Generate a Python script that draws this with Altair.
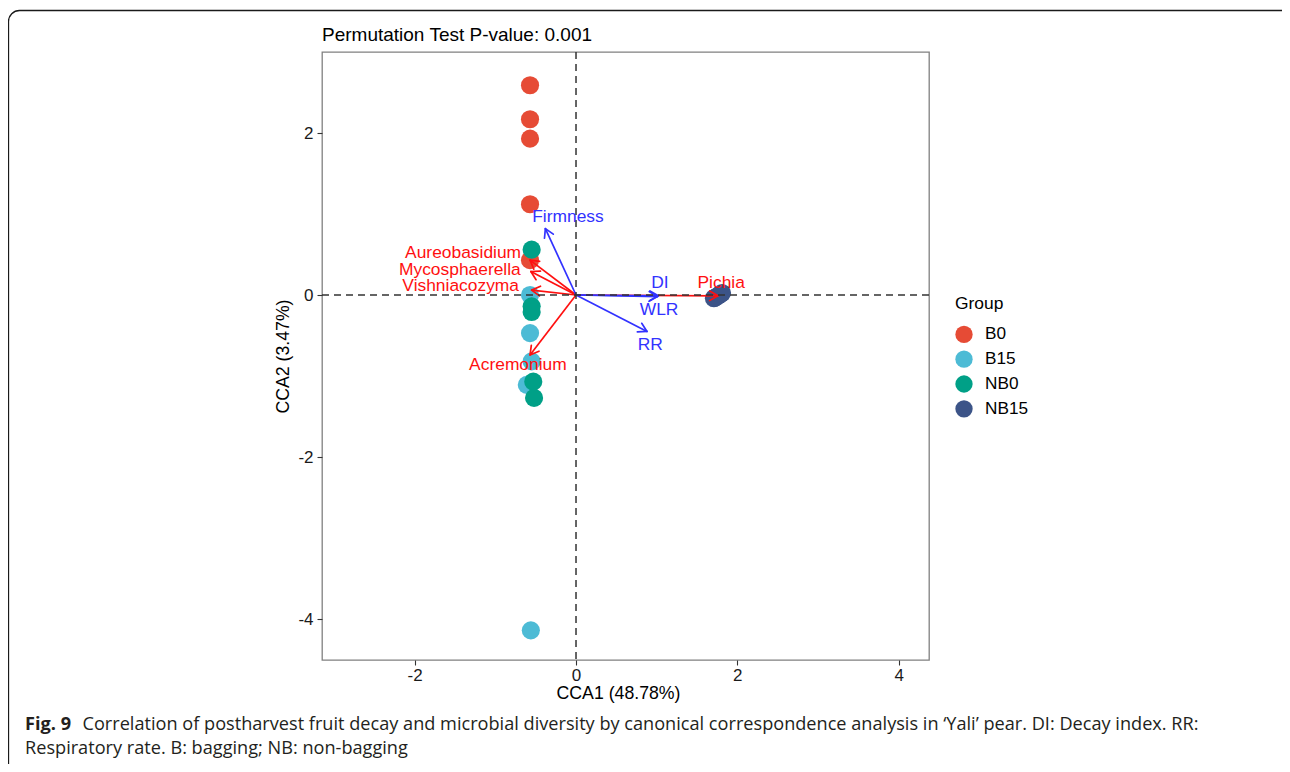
import altair as alt
import pandas as pd

# ---- sample scores (CCA1, CCA2) ----
group_names = ["B0", "B15", "NB0", "NB15"]
group_colors = ["#E64B35", "#4DBBD5", "#00A087", "#3C5488"]
b0_x = [-0.57, -0.57, -0.57, -0.57, -0.57]
b0_y = [2.59, 2.17, 1.93, 1.12, 0.43]
b15_x = [-0.57, -0.57, -0.55, -0.61, -0.56]
b15_y = [0.0, -0.47, -0.82, -1.11, -4.14]
nb0_x = [-0.55, -0.55, -0.55, -0.53, -0.52]
nb0_y = [0.56, -0.14, -0.21, -1.07, -1.27]
nb15_x = [1.71, 1.73, 1.76, 1.79, 1.81]
nb15_y = [-0.04, -0.03, -0.01, 0.01, 0.025]

# ---- species arrows (red) ----
sp_names = ["Aureobasidium", "Mycosphaerella", "Vishniacozyma", "Acremonium", "Pichia"]
sp_x = [-0.57, -0.56, -0.55, -0.57, 1.76]
sp_y = [0.43, 0.29, 0.06, -0.74, -0.01]
sp_lx = [-1.40, -1.44, -1.43, -0.72, 1.80]
sp_ly = [0.52, 0.31, 0.11, -0.87, 0.145]

# ---- environmental arrows (blue) ----
env_names = ["Firmness", "DI", "WLR", "RR"]
env_x = [-0.38, 1.02, 1.01, 0.88]
env_y = [0.82, -0.01, -0.02, -0.45]
env_lx = [-0.10, 1.04, 1.03, 0.92]
env_ly = [0.967, 0.145, -0.185, -0.62]

x_ticks = [-2, 0, 2, 4]
y_ticks = [-4, -2, 0, 2]
x_domain = [-3.149, 4.376]
y_domain = [-4.506, 3.0]

title_text = "Permutation Test P-value: 0.001"
x_title = "CCA1 (48.78%)"
y_title = "CCA2 (3.47%)"
cap_bold = "Fig. 9"
cap_line1 = "Correlation of postharvest fruit decay and microbial diversity by canonical correspondence analysis in \u2018Yali\u2019 pear. DI: Decay index. RR:"
cap_line2 = "Respiratory rate. B: bagging; NB: non-bagging"

FONT = "Liberation Sans"
CAP_FONT = "Open Sans"
CAP_SIZE = 18.15
RED = "#FF1010"
BLUE = "#3232FF"

pts = pd.DataFrame({
    "CCA1": b0_x + b15_x + nb0_x + nb15_x,
    "CCA2": b0_y + b15_y + nb0_y + nb15_y,
    "Group": ["B0"] * len(b0_x) + ["B15"] * len(b15_x) + ["NB0"] * len(nb0_x) + ["NB15"] * len(nb15_x),
})
sp = pd.DataFrame({"name": sp_names, "x": sp_x, "y": sp_y, "lx": sp_lx, "ly": sp_ly})
env = pd.DataFrame({"name": env_names, "x": env_x, "y": env_y, "lx": env_lx, "ly": env_ly})

xs = alt.Scale(domain=x_domain, nice=False, zero=False)
ys = alt.Scale(domain=y_domain, nice=False, zero=False)

points = alt.Chart(pts).mark_circle(size=330, opacity=1).encode(
    x=alt.X("CCA1:Q", scale=xs,
            axis=alt.Axis(values=x_ticks, title=x_title, titleX=296, titleY=33,
                          labelExpr="toString(datum.value)",
                          titleBaseline="middle", titleAlign="center")),
    y=alt.Y("CCA2:Q", scale=ys,
            axis=alt.Axis(values=y_ticks, title=y_title, titleX=-39, titleY=304,
                          labelExpr="toString(datum.value)",
                          titleBaseline="middle", titleAlign="center", titleAngle=270)),
    color=alt.Color("Group:N", scale=alt.Scale(domain=group_names, range=group_colors),
                    legend=alt.Legend(title="Group", orient="none", legendX=633, legendY=243)),
    order=alt.Order("idx:Q"),
).transform_window(idx="row_number()")


def arrows(df, color):
    base = alt.Chart(df).transform_calculate(
        x0="0", y0="0",
        a="atan2(datum.y, datum.x)",
        h1x="datum.x - 0.12*cos(datum.a - PI/6)",
        h1y="datum.y - 0.12*sin(datum.a - PI/6)",
        h2x="datum.x - 0.12*cos(datum.a + PI/6)",
        h2y="datum.y - 0.12*sin(datum.a + PI/6)",
    )
    shaft = base.mark_rule(color=color, strokeWidth=1.7).encode(
        x=alt.X("x0:Q", scale=xs), y=alt.Y("y0:Q", scale=ys), x2="x:Q", y2="y:Q")
    h1 = base.mark_rule(color=color, strokeWidth=1.7, strokeCap="round").encode(
        x=alt.X("x:Q", scale=xs), y=alt.Y("y:Q", scale=ys), x2="h1x:Q", y2="h1y:Q")
    h2 = base.mark_rule(color=color, strokeWidth=1.7, strokeCap="round").encode(
        x=alt.X("x:Q", scale=xs), y=alt.Y("y:Q", scale=ys), x2="h2x:Q", y2="h2y:Q")
    return [shaft, h1, h2]


def labels(df, color):
    return alt.Chart(df).mark_text(color=color, font=FONT, fontSize=17.4,
                                   align="center", baseline="middle").encode(
        x=alt.X("lx:Q", scale=xs), y=alt.Y("ly:Q", scale=ys), text="name:N")


zero = pd.DataFrame({"v": [0]})
vline = alt.Chart(zero).mark_rule(color="#333333", strokeWidth=1.5, strokeDash=[7, 5]).encode(
    x=alt.X("v:Q", scale=xs))
hline = alt.Chart(zero).mark_rule(color="#333333", strokeWidth=1.5, strokeDash=[7, 5]).encode(
    y=alt.Y("v:Q", scale=ys))

one = pd.DataFrame({"k": [0]})
frame = alt.Chart(one).mark_rect(filled=False, stroke="#1a1a1a", strokeWidth=1.3,
                                 cornerRadius=11).encode(
    x=alt.value(-313.5), x2=alt.value(1000), y=alt.value(-41.5), y2=alt.value(800))
title_mark = alt.Chart(one).mark_text(text=title_text, font=FONT, fontSize=19,
                                      align="left", baseline="alphabetic", color="#000000").encode(
    x=alt.value(0), y=alt.value(-11.5))
cap1 = alt.Chart(one).mark_text(text=cap_bold, font=CAP_FONT, fontSize=CAP_SIZE, fontWeight="bold",
                                align="left", baseline="alphabetic", color="#231F20").encode(
    x=alt.value(-297), y=alt.value(678))
cap2 = alt.Chart(one).mark_text(text=cap_line1, font=CAP_FONT, fontSize=CAP_SIZE,
                                align="left", baseline="alphabetic", color="#231F20").encode(
    x=alt.value(-239.5), y=alt.value(678))
cap3 = alt.Chart(one).mark_text(text=cap_line2, font=CAP_FONT, fontSize=CAP_SIZE,
                                align="left", baseline="alphabetic", color="#231F20").encode(
    x=alt.value(-297), y=alt.value(702))

layers = [frame, points] + arrows(sp, RED) + arrows(env, BLUE) + [vline, hline,
          labels(sp, RED), labels(env, BLUE), title_mark, cap1, cap2, cap3]

chart = alt.layer(*layers).properties(
    width=607, height=608,
    autosize=alt.AutoSizeParams(type="none"),
    padding={"left": 314, "top": 44, "right": 353, "bottom": 104},
).configure_view(
    stroke="#808080", strokeWidth=1.3
).configure_axis(
    grid=False, domain=False, ticks=True, tickSize=5, tickColor="#333333", tickWidth=1.1,
    labelFont=FONT, labelFontSize=17, labelColor="#1a1a1a",
    titleFont=FONT, titleFontSize=17.7, titleFontWeight="normal", titleColor="#000000",
).configure_axisX(labelPadding=2).configure_axisY(labelPadding=4).configure_legend(
    titleFont=FONT, titleFontSize=17.4, titleFontWeight="normal", titleColor="#000000",
    labelFont=FONT, labelFontSize=17.2, labelColor="#000000",
    symbolType="circle", symbolSize=300, symbolStrokeWidth=0, rowPadding=6.8,
    titlePadding=13, labelOffset=12, padding=0,
)

chart.save("out.html", embed_options={"renderer": "svg", "actions": False})
